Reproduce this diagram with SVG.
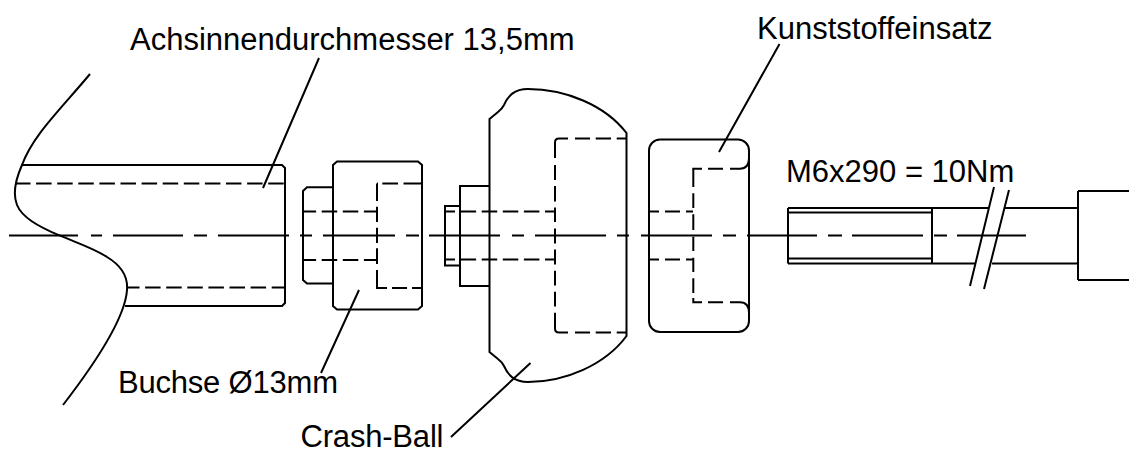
<svg xmlns="http://www.w3.org/2000/svg" width="1129" height="450" viewBox="0 0 1129 450">
<style>
.l{fill:none;stroke:#000;stroke-width:2}
.d{fill:none;stroke:#000;stroke-width:2;stroke-dasharray:15.500 5.600}
.e{fill:none;stroke:#000;stroke-width:2}
.t{font-family:"Liberation Sans",Arial,sans-serif;font-size:31px;fill:#000}
</style>
<rect width="1129" height="450" fill="#fff"/>
<g id="center-line"><path class="l" d="M9 235.500H78M91 235.500H102M113 235.500H183M194 235.500H207M218 235.500H289M300 235.500H312M323 235.500H395M406 235.500H419M429 235.500H500M512 235.500H524M535 235.500H606M617 235.500H629M641 235.500H712M723 235.500H736M747 235.500H817M828 235.500H842M852 235.500H923M934 235.500H947M957 235.500H1026"/></g>
<g id="axle">
<path class="l" d="M90 74C60 110 33 135 22 165C14 183 13 195 17 205C22 217 37 226 60 235.700C80 244 95 249 107 257C122 266 128 278 127 290C125 320 90 370 63 405"/>
<path class="l" d="M22 165H282L285 168V303L282 306H125"/>
<path class="d" d="M15 183.500H285"/>
<path class="d" stroke-dashoffset="3" d="M127 287.500H285"/>
</g>
<g id="bushing">
<path class="l" d="M333 187.300H307L303 191V280L307 283.500H333M333 165L337 161.500H418L422 165V306L418 309.500H337L333 306Z"/>
<path class="d" stroke-dashoffset="2.400" d="M303 211.500H377M303 260H377"/>
<path class="e" d="M377 183.500V201M377 206.700V222M377 227.700V243M377 248.300V264M377 270V288H387M392 288H407M412 288H422M377 183.500H378M382.300 183.500H398M403.500 183.500H422"/>
</g>
<g id="crash-ball">
<path class="l" d="M489.500 119L498 112Q502 109 504 105C508 96 514 89 528 89C565 89 605 105 626.500 133V336C605 365 565 382 528 382C514 382 508 375 504 366Q502 362 498 359L489.500 352Z"/>
<path class="l" d="M489.500 186H460V286H489.500M460 206H445V265.500H460"/>
<path class="d" stroke-dashoffset="5.500" d="M445 211.500H555M445 259.500H555"/>
<path class="e" d="M568 138.500H559Q555 138.500 555 142.500V158M555 165V180M555 186V201.500M555 207.500V222M555 228.500V243.500M555 249.500V264.500M555 270.700V285.500M555 291.700V306.500M555 312.700V328.500Q555 332.500 559 332.500H568M575 138.500H590M595.700 138.500H611M616.700 138.500H627M575 332.500H590M595.700 332.500H611M616.700 332.500H627"/>
</g>
<g id="insert">
<rect class="l" x="649" y="139.500" width="100" height="192.500" rx="11"/>
<path class="e" d="M649 211.500H659M665 211.500H680M686 211.500H693M649 259.500H659M665 259.500H680M686 259.500H693"/>
<path class="e" d="M702 168.700H693.300V187M693.300 193.300V208M693.300 214.300V230M693.300 236.700V251M693.300 257.700V272M693.300 278.300V293M693.300 298V302.300H702M708 168.700H723M730 168.700H740Q749 168.700 749 158M708 302.300H723M730 302.300H740Q749 302.300 749 313"/>
</g>
<g id="bolt">
<path class="l" d="M788 208H989M1004 208H1078M788 263.500H975M992 263.500H1078M788 212.500H932M788 258.500H932M788 208V263.500M932 208V263.500M1078 191V280M1078 191H1129M1078 280H1129"/>
<path class="l" d="M994 187L970 286M1009 190L984 289"/>
</g>
<g id="leaders">
<path class="l" d="M319 58L263 188M359 290L321 373M530.500 363L451 437M779.500 44L719 152"/>
</g>
<text class="t" x="130" y="49.500">Achsinnendurchmesser 13,5mm</text>
<text class="t" x="757" y="38.500">Kunststoffeinsatz</text>
<text class="t" x="786" y="182">M6x290 = 10Nm</text>
<text class="t" x="118" y="393" textLength="220">Buchse Ø13mm</text>
<text class="t" x="300.500" y="447" textLength="143">Crash-Ball</text>
</svg>
